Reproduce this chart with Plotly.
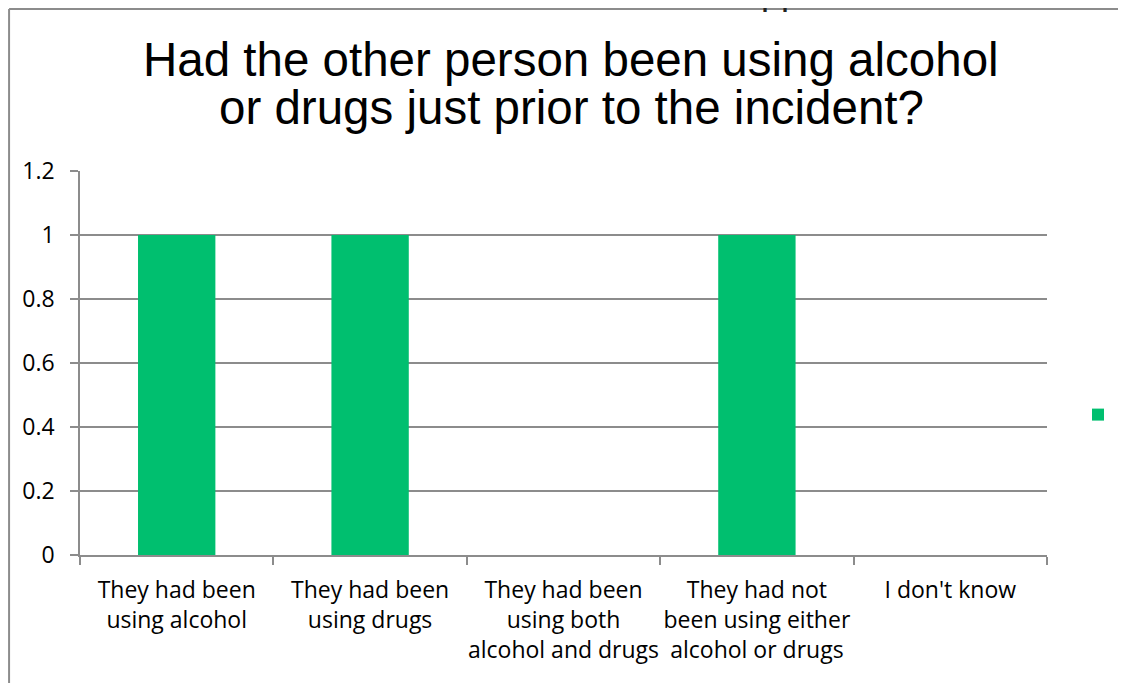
import plotly.graph_objects as go

categories = [
    "They had been<br>using alcohol",
    "They had been<br>using drugs",
    "They had been<br>using both<br>alcohol and drugs",
    "They had not<br>been using either<br>alcohol or drugs",
    "I don't know",
]
values = [1, 1, 0, 1, 0]
y_ticks = [0, 0.2, 0.4, 0.6, 0.8, 1, 1.2]
y_tick_labels = ["0", "0.2", "0.4", "0.6", "0.8", "1", "1.2"]
title_lines = ["Had the other person been using alcohol", "or drugs just prior to the incident?"]

GREEN = "#00BF6F"
GRAY = "#8C8C8C"
W, H = 1126, 683
OFF = 8  # page body margin: page px = figure px + OFF

# plot area in page pixels
PL, PR, PT, PB = 80, 1048, 171, 555
L = PL - OFF
R = W - (PR - OFF)
T = PT - OFF
B = H - (PB - OFF)
pw, ph = W - L - R, H - T - B


def px_x(p):
    """page pixel x -> paper x"""
    return (p - OFF - L) / pw


def px_y(p):
    """page pixel y -> paper y"""
    return (H - B - (p - OFF)) / ph


fig = go.Figure()
fig.add_trace(go.Bar(
    x=categories, y=values, marker=dict(color=GREEN, line=dict(width=0)),
    name="", showlegend=True,
))

fig.update_layout(
    width=W, height=H,
    margin=dict(l=L, r=R, t=T, b=B, pad=0),
    paper_bgcolor="white", plot_bgcolor="white",
    bargap=0.6,
    font=dict(family="Open Sans, sans-serif", size=23, color="#000000"),
    showlegend=True,
    legend=dict(x=px_x(1078), y=px_y(415), xanchor="left", yanchor="middle",
                bgcolor="rgba(0,0,0,0)", font=dict(size=14)),
    xaxis=dict(
        showline=True, linecolor=GRAY, linewidth=1.5,
        ticks="outside", tickson="boundaries", ticklen=8, tickcolor=GRAY, tickwidth=1.5,
        showgrid=False, tickangle=0, automargin=False, ticklabelstandoff=14,
    ),
    yaxis=dict(
        range=[0, 1.2], tickvals=y_ticks, ticktext=y_tick_labels,
        showline=True, linecolor=GRAY, linewidth=1.5,
        ticks="outside", ticklen=8, tickcolor=GRAY, tickwidth=1.5,
        showgrid=True, gridcolor=GRAY, gridwidth=1.5,
        zeroline=False, automargin=False, ticklabelstandoff=11,
    ),
)

# title lines
for i, (line, yc) in enumerate(zip(title_lines, [59.5, 107.5])):
    fig.add_annotation(
        text=line, xref="paper", yref="paper",
        x=px_x(572), y=px_y(yc), xanchor="center", yanchor="middle",
        showarrow=False,
        font=dict(family="Liberation Sans, Arial, sans-serif", size=47.5, color="#000000"),
    )

# cut-off text above the frame
fig.add_annotation(
    text="pp", xref="paper", yref="paper",
    x=px_x(782), y=px_y(13), xanchor="center", yanchor="bottom", borderpad=0,
    showarrow=False,
    font=dict(family="Liberation Sans, Arial, sans-serif", size=36, color="#222222"),
)

# chart frame (left and top edges)
fig.add_shape(type="line", xref="paper", yref="paper",
              x0=px_x(OFF + 1), x1=px_x(W + OFF + 5), y0=px_y(OFF + 1), y1=px_y(OFF + 1),
              line=dict(color=GRAY, width=2))
fig.add_shape(type="line", xref="paper", yref="paper",
              x0=px_x(OFF + 1), x1=px_x(OFF + 1), y0=px_y(OFF + 1), y1=px_y(H + OFF + 5),
              line=dict(color=GRAY, width=2))

fig.write_html("out.html")
